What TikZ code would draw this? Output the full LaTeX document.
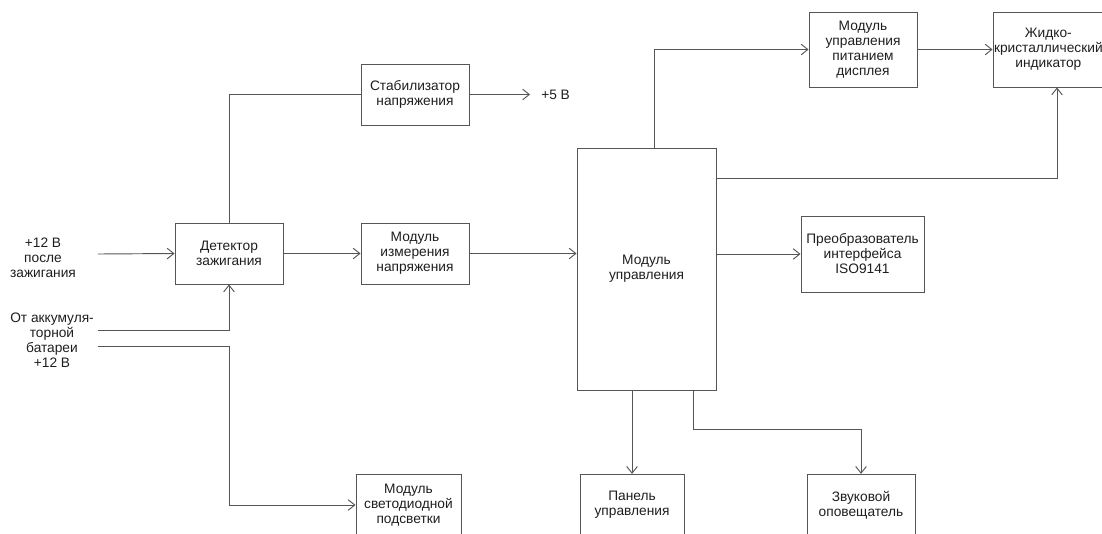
\documentclass[tikz,border=0pt]{standalone}
\usepackage{fontspec}
\setmainfont{Liberation Sans}
\usepackage{xcolor}
\usetikzlibrary{arrows.meta}

\definecolor{linegray}{RGB}{85,85,85}
\definecolor{textgray}{RGB}{30,30,30}

\begin{document}
\begin{tikzpicture}[
			x=0.75pt, y=-0.75pt,
			font=\fontsize{10.3}{11.25}\selectfont,
			box/.style={draw=linegray, line width=0.7pt, align=center,
					text=textgray, inner sep=0pt},
			label/.style={align=center, text=textgray, inner sep=0pt},
			conn/.style={draw=linegray, line width=0.7pt},
			arr/.style={conn, -{Straight Barb[length=5pt,width=8pt]}}
		]
		\useasboundingbox (0,0) rectangle (1102,533);
		\clip (0,0) rectangle (1102,533);
		% blocks
		\node[box, minimum width=81pt, minimum height=45.75pt] (det) at (229,253.5) {Детектор\\зажигания};
		\node[box, minimum width=81pt, minimum height=45.75pt] (stab) at (415,94.5) {Стабилизатор\\напряжения};
		\node[box, minimum width=81pt, minimum height=45.75pt] (meas) at (415,253.5) {Модуль\\измерения\\напряжения};
		\node[box, minimum width=104.25pt, minimum height=181.5pt] (ctrl) at (646.5,269) {Модуль\\управления};
		\node[box, minimum width=92.25pt, minimum height=57pt] (iso) at (862.5,254) {Преобразователь\\интерфейса\\ISO9141};
		\node[box, minimum width=81pt, minimum height=56.25pt] (pwr) at (863,49.5) {Модуль\\управления\\питанием\\дисплея};
		\node[box, minimum width=96pt, minimum height=56.25pt] (lcd) at (1057,49.5) {};
		\node[label] (lcdtxt) at ([xshift=-6.5pt]lcd.center) {Жидко-\\кристаллический\\индикатор};
		\node[box, minimum width=78.75pt, minimum height=46pt] (led) at (408.5,505) {Модуль\\светодиодной\\подсветки};
		\node[box, minimum width=78pt, minimum height=46pt] (pan) at (632,505) {Панель\\управления};
		\node[box, minimum width=81pt, minimum height=46pt] (snd) at (861,505) {Звуковой\\оповещатель};
		% inputs and outputs
		\node[label] (ign) at (43,258) {+12 В\\после\\зажигания};
		\node[label] (bat) at (52,340.5) {От аккумуля-\\торной\\батареи\\+12 В};
		\node[label, anchor=west] (out5) at (541,95) {+5 В};
		\coordinate (ignend) at (98,254);
		\coordinate (bat1) at (98,330);
		\coordinate (bat2) at (98,346);
		\coordinate (stabend) at (530,94.5);
		% connectors
		\draw[arr] (ignend) -- (det.west);
		\draw[arr] (bat1) -| (det.south);
		\draw[arr] (bat2) -| (det.south |- led.west) -- (led.west);
		\draw[conn] (det.north) |- (stab.west);
		\draw[arr] (stab.east) -- (stabend);
		\draw[arr] (det.east) -- (meas.west);
		\draw[arr] (meas.east) -- (meas.east -| ctrl.west);
		\draw[arr] ([xshift=5.6pt]ctrl.north) |- (pwr.west);
		\draw[arr] (pwr.east) -- (lcd.west);
		\draw[arr] (ctrl.east |- 0,178) -| (lcd.south);
		\draw[arr] (iso.west -| ctrl.east) -- (iso.west);
		\draw[arr] (pan.north |- ctrl.south) -- (pan.north);
		\draw[arr] (ctrl.south -| 693,0) -- ++(0,39) -| (snd.north);
	\end{tikzpicture}
\end{document}
